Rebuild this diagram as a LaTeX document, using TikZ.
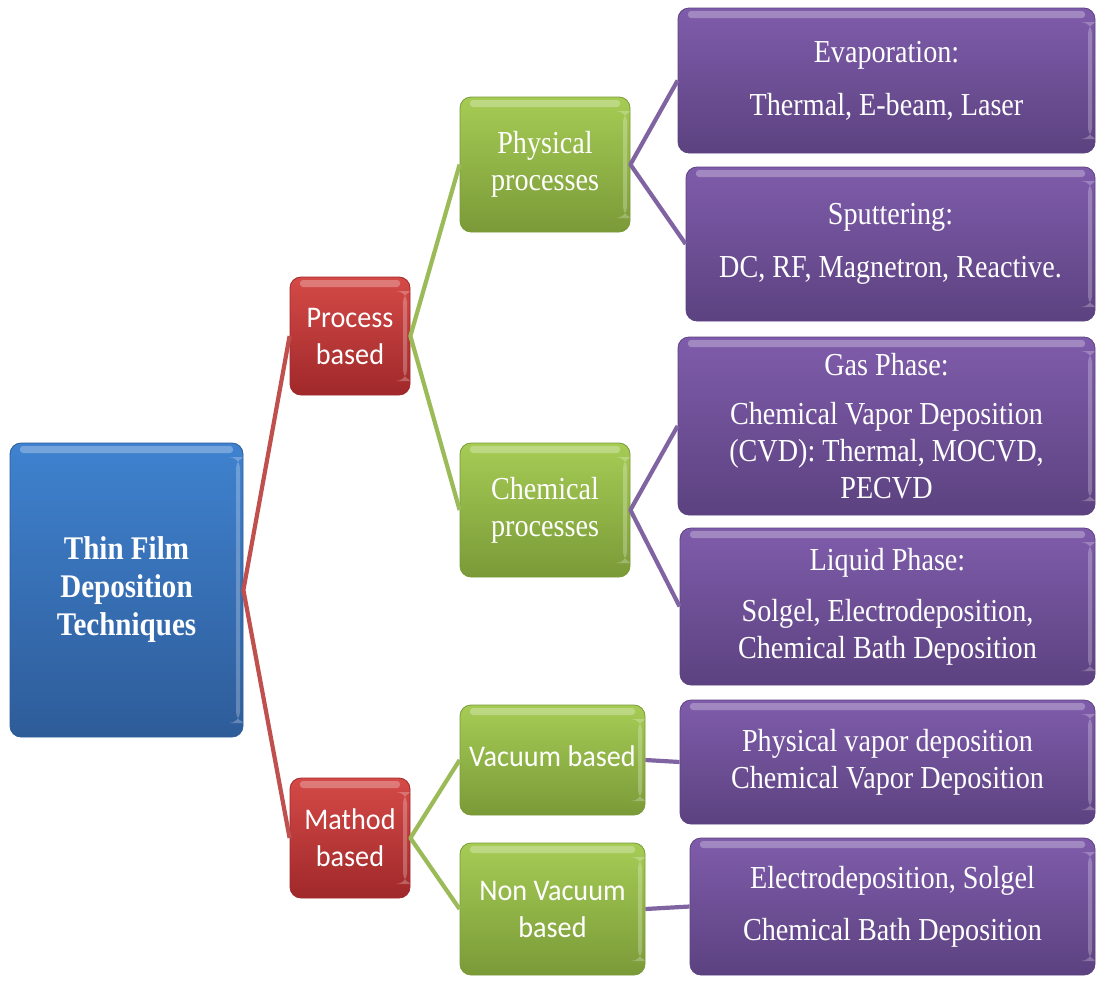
\documentclass[tikz,border=0pt]{standalone}
\usepackage{fontspec}
\setmainfont[FakeStretch=0.88]{Liberation Serif}
\newfontfamily\carl[FakeStretch=0.94]{Carlito}
\definecolor{blueT}{HTML}{3F82CF}
\definecolor{blueB}{HTML}{2E5C99}
\definecolor{redT}{HTML}{D44A47}
\definecolor{redB}{HTML}{A0282A}
\definecolor{greenT}{HTML}{A6CC55}
\definecolor{greenB}{HTML}{7A9A38}
\definecolor{purpT}{HTML}{7F5CAB}
\definecolor{purpB}{HTML}{5C4280}
\definecolor{redL}{HTML}{C0504D}
\definecolor{greenL}{HTML}{9BBB59}
\definecolor{purpL}{HTML}{8064A2}
\begin{document}
\begin{tikzpicture}[x=1pt,y=-1pt,
  card/.style 2 args={top color=#1, bottom color=#2, draw=#2, line width=0.8pt,
    rounded corners=11pt, text=white, align=center, inner sep=0pt,
    path picture={
      \fill[white,opacity=0.28,rounded corners=3pt]
        ([xshift=10pt,yshift=-3pt]path picture bounding box.north west) rectangle
        ([xshift=-10pt,yshift=-10pt]path picture bounding box.north east);
      \fill[white,opacity=0.25]
        ([xshift=-7pt,yshift=-14pt]path picture bounding box.north east) rectangle
        ([xshift=-3pt,yshift=14pt]path picture bounding box.south east);
    }},
  rootbox/.style={card={blueT}{blueB}, font=\fontsize{33}{38}\selectfont\bfseries},
  redbox/.style={card={redT}{redB}, font=\carl\fontsize{30}{37}\selectfont},
  greenbox/.style={card={greenT}{greenB}, font=\fontsize{32}{37}\selectfont},
  greensans/.style={card={greenT}{greenB}, font=\carl\fontsize{30}{37}\selectfont},
  purpbox/.style={card={purpT}{purpB}, font=\fontsize{32}{37}\selectfont},
  conn/.style={line width=4.2pt, line join=round}
]
\useasboundingbox (0,0) rectangle (1097,980);

\node[rootbox, minimum width=233pt, minimum height=294pt] (root) at (126.5,590) {Thin Film\\Deposition\\Techniques};

\node[redbox, minimum width=120pt, minimum height=118pt] (proc) at (350,336) {Process\\based};
\node[redbox, minimum width=120pt, minimum height=120pt] (meth) at (350,838) {Mathod\\based};

\node[greenbox, minimum width=170pt, minimum height=135pt] (phys) at (545,164.5) {Physical\\processes};
\node[greenbox, minimum width=170pt, minimum height=134pt] (chem) at (545,510) {Chemical\\processes};
\node[greensans, minimum width=185pt, minimum height=110pt] (vac) at (552.5,760) {\raisebox{8pt}{Vacuum based}};
\node[greensans, minimum width=185pt, minimum height=132pt] (nvac) at (552.5,909) {Non Vacuum\\based};

\node[purpbox, minimum width=417pt, minimum height=145pt] (evap) at (886.5,80.5) {Evaporation:\\[16pt]Thermal, E-beam, Laser};
\node[purpbox, minimum width=409pt, minimum height=154pt] (sput) at (890.5,244) {Sputtering:\\[16pt]DC, RF, Magnetron, Reactive.};
\node[purpbox, minimum width=417pt, minimum height=178pt] (gas) at (886.5,426) {Gas Phase:\\[12pt]Chemical Vapor Deposition\\(CVD): Thermal, MOCVD,\\PECVD};
\node[purpbox, minimum width=415pt, minimum height=157pt] (liq) at (887.5,606.5) {Liquid Phase:\\[14pt]Solgel, Electrodeposition,\\Chemical Bath Deposition};
\node[purpbox, minimum width=415pt, minimum height=124pt] (pvd) at (887.5,762) {Physical vapor deposition\\Chemical Vapor Deposition};
\node[purpbox, minimum width=405pt, minimum height=137pt] (elec) at (892.5,906.5) {Electrodeposition, Solgel\\[15pt]Chemical Bath Deposition};

\draw[conn, redL] (proc.west) -- (root.east) -- (meth.west);
\draw[conn, greenL] (phys.west) -- (proc.east) -- (chem.west);
\draw[conn, greenL] (vac.west) -- (meth.east) -- (nvac.west);
\draw[conn, purpL] (evap.west) -- (phys.east) -- (sput.west);
\draw[conn, purpL] (gas.west) -- (chem.east) -- (liq.west);
\draw[conn, purpL] (vac.east) -- (pvd.west);
\draw[conn, purpL] (nvac.east) -- (elec.west);
\end{tikzpicture}
\end{document}
